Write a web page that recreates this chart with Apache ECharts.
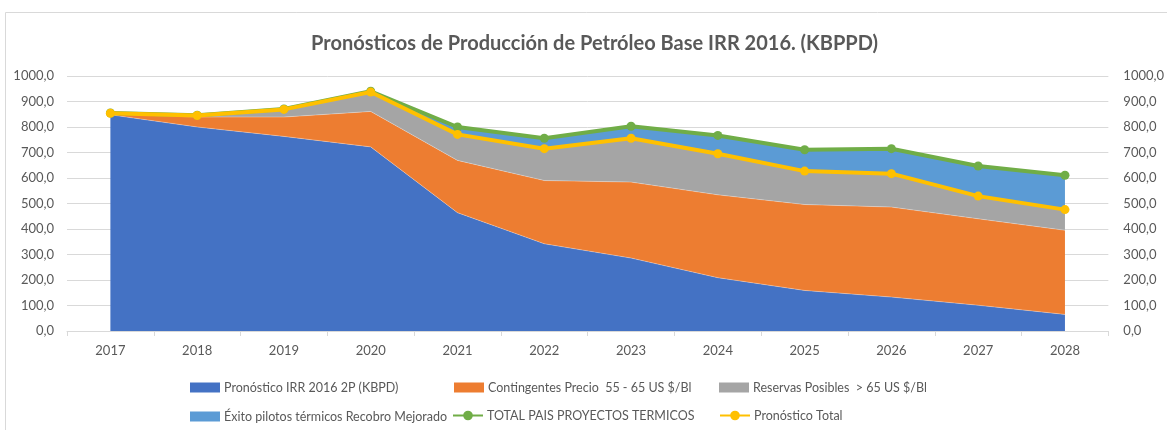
<!DOCTYPE html>
<html>
<head>
<meta charset="utf-8">
<script src="https://cdn.jsdelivr.net/npm/echarts@6/dist/echarts.min.js"></script>
<style>
html,body{margin:0;padding:0;background:#fff;}
#chart{width:1167px;height:430px;}
</style>
</head>
<body>
<div id="chart"></div>
<script>
// ---- Data ----
var years = ['2017','2018','2019','2020','2021','2022','2023','2024','2025','2026','2027','2028'];
var pronosticoIRR = [848, 800, 763, 722, 464, 342, 286, 209, 159, 133, 101, 65];
var contingentes  = [3, 39, 76, 139, 205, 248, 298, 325, 337, 353, 339, 330];
var reservasPosibles = [3, 6, 30, 76, 102, 125, 172, 161, 131, 131, 89, 81];
var exitoPilotos  = [1, 1, 2, 3, 29, 41, 47, 72, 84, 98, 118, 135];
var totalPaisTermicos = [855, 846, 871, 940, 800, 756, 803, 767, 711, 715, 647, 611];
var pronosticoTotal   = [854, 845, 869, 937, 771, 715, 756, 695, 627, 617, 529, 476];
var yTicks = [0, 100, 200, 300, 400, 500, 600, 700, 800, 900, 1000];

var names = [
  'Pronóstico IRR 2016 2P (KBPD)',
  'Contingentes Precio  55 - 65 US $/Bl',
  'Reservas Posibles  > 65 US $/Bl',
  'Éxito pilotos térmicos Recobro Mejorado',
  'TOTAL PAIS PROYECTOS TERMICOS',
  'Pronóstico Total'
];

var FONT = 'Lato';
var TXT = '#595959';
var GRIDC = '#d9d9d9';

function fmt(v){ return Number(v).toFixed(1).replace('.', ','); }

function areaSeries(name, data, color){
  return {
    name: name, type: 'line', stack: 'prod', data: data,
    showSymbol: false, symbol: 'none',
    lineStyle: {width: 0.6, color: 'rgba(255,255,255,0.5)'},
    areaStyle: {color: color, opacity: 1},
    itemStyle: {color: color},
    emphasis: {disabled: true}
  };
}
function lineSeries(name, data, color, z){
  return {
    name: name, type: 'line', data: data,
    symbol: 'circle', symbolSize: 9,
    lineStyle: {width: 4, color: color},
    itemStyle: {color: color},
    z: z,
    emphasis: {disabled: true}
  };
}
function leg(name, left, top, isArea){
  var l = {
    data: [name], left: left, top: top,
    itemWidth: 30, itemHeight: isArea ? 10 : 12, itemGap: 0,
    padding: 0,
    textStyle: {fontFamily: FONT, fontSize: 12.5, color: TXT, padding:[0,0,0,-1]},
    selectedMode: false
  };
  if (isArea) l.icon = 'rect';
  return l;
}

var chart = echarts.init(document.getElementById('chart'), null, {renderer: 'canvas'});
chart.setOption({
  animation: false,
  backgroundColor: '#fff',
  title: {
    text: 'Pronósticos de Producción de Petróleo Base IRR 2016. (KBPPD)',
    left: 306, top: 29,
    textStyle: {fontFamily: FONT, fontWeight: 'bold', fontSize: 20, color: TXT}
  },
  graphic: [{
    type: 'rect', shape: {x: 5.5, y: 12.5, width: 1300, height: 500},
    style: {fill: 'none', stroke: GRIDC, lineWidth: 1}, silent: true, z: -10
  }],
  legend: [
    leg(names[0], 190, 381, true),
    leg(names[1], 454, 381, true),
    leg(names[2], 719, 381, true),
    leg(names[3], 190, 410, true),
    leg(names[4], 452, 409, false),
    leg(names[5], 719, 409, false)
  ],
  grid: {left: 67, right: 54, top: 76, bottom: 99, containLabel: false},
  xAxis: {
    type: 'category', data: years, boundaryGap: true,
    axisLine: {lineStyle: {color: GRIDC}},
    axisTick: {show: true, length: 5, lineStyle: {color: GRIDC}},
    axisLabel: {fontFamily: FONT, fontSize: 13, color: TXT, margin: 13}
  },
  yAxis: [{
    type: 'value', min: yTicks[0], max: yTicks[yTicks.length-1], interval: 100,
    axisLine: {show: false}, axisTick: {show: false},
    splitLine: {lineStyle: {color: GRIDC}},
    axisLabel: {fontFamily: FONT, fontSize: 13, color: TXT, margin: 13, formatter: fmt}
  },{
    type: 'value', position: 'right', min: yTicks[0], max: yTicks[yTicks.length-1], interval: 100,
    axisLine: {show: false}, axisTick: {show: false},
    splitLine: {show: false},
    axisLabel: {fontFamily: FONT, fontSize: 13, color: TXT, margin: 15, formatter: fmt}
  }],
  series: [
    areaSeries(names[0], pronosticoIRR, '#4472C4'),
    areaSeries(names[1], contingentes, '#ED7D31'),
    areaSeries(names[2], reservasPosibles, '#A5A5A5'),
    areaSeries(names[3], exitoPilotos, '#5B9BD5'),
    lineSeries(names[4], totalPaisTermicos, '#70AD47', 5),
    lineSeries(names[5], pronosticoTotal, '#FFC000', 6)
  ]
});
</script>
</body>
</html>
